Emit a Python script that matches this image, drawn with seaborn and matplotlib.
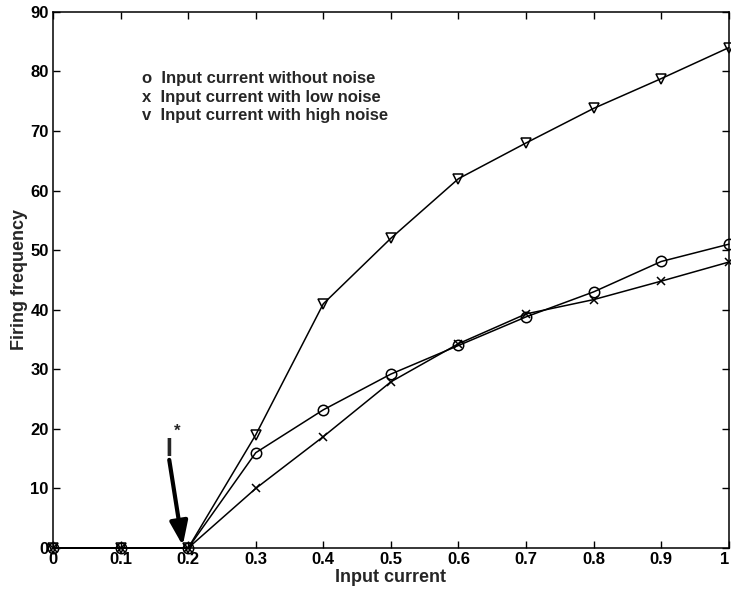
import matplotlib
matplotlib.use("Agg")
import matplotlib.pyplot as plt
import seaborn as sns
import pandas as pd

sns.set_theme(style="ticks")
plt.rcParams["font.family"] = ["Liberation Sans", "DejaVu Sans"]

input_current = [0, 0.1, 0.2, 0.3, 0.4, 0.5, 0.6, 0.7, 0.8, 0.9, 1.0]
freq_no_noise = [0, 0, 0, 16, 23.2, 29.2, 34.0, 38.8, 43.0, 48.1, 51]
freq_low_noise = [0, 0, 0, 10, 18.7, 27.9, 34.3, 39.3, 41.7, 44.8, 48]
freq_high_noise = [0, 0, 0, 19, 41, 52, 62, 68, 73.8, 78.8, 84]

legend_lines = [
    "o  Input current without noise",
    "x  Input current with low noise",
    "v  Input current with high noise",
]

x_ticks = [0, 0.1, 0.2, 0.3, 0.4, 0.5, 0.6, 0.7, 0.8, 0.9, 1]
x_tick_labels = ["0", "0.1", "0.2", "0.3", "0.4", "0.5", "0.6", "0.7", "0.8", "0.9", "1"]
y_ticks = [0, 10, 20, 30, 40, 50, 60, 70, 80, 90]

df = pd.DataFrame({"current": input_current,
                   "none": freq_no_noise,
                   "low": freq_low_noise,
                   "high": freq_high_noise})

fig = plt.figure(figsize=(7.31, 5.94), dpi=100)
ax = fig.add_axes([0.0725, 0.0774, 0.9245, 0.9026])

line_kw = dict(color="black", linewidth=1.1, mec="black", mew=1.1)
sns.lineplot(data=df, x="current", y="none", ax=ax, marker="o", ms=7.5,
             mfc="none", **line_kw)
sns.lineplot(data=df, x="current", y="low", ax=ax, marker="x", ms=5.5, **line_kw)
sns.lineplot(data=df, x="current", y="high", ax=ax, marker="v", ms=7.5,
             mfc="none", **line_kw)

ax.set_xlim(0, 1)
ax.set_ylim(0, 90)
ax.set_xticks(x_ticks)
ax.set_xticklabels(x_tick_labels)
ax.set_yticks(y_ticks)
ax.tick_params(direction="in", length=5, width=1, top=True, right=True,
               labelsize=12, pad=3, colors="black")
for lab in ax.get_xticklabels() + ax.get_yticklabels():
    lab.set_fontweight("bold")
ax.get_xticklabels()[-1].set_horizontalalignment("right")
for sp in ax.spines.values():
    sp.set_color("black")
    sp.set_linewidth(1.1)
for ln in ax.lines:
    ln.set_clip_on(False)

ax.set_xlabel("Input current", fontsize=13, fontweight="bold", labelpad=1)
ax.set_ylabel("Firing frequency", fontsize=13, fontweight="bold", labelpad=2)

# hand-written key in the upper left
for i, txt in enumerate(legend_lines):
    ax.text(0.132, 78.8 - i * 3.1, txt, fontsize=12, fontweight="bold",
            va="center", ha="left")

# threshold current marker
ax.annotate("", xy=(0.192, 0.4), xytext=(0.172, 14.8),
            arrowprops=dict(arrowstyle="-|>,head_length=1.2,head_width=0.45",
                            color="black", lw=3.0, shrinkA=0, shrinkB=0))
ax.text(0.171, 16.6, "I", fontsize=18, fontweight="bold", ha="center", va="center")
ax.text(0.184, 19.6, "*", fontsize=12, fontweight="bold", ha="center", va="center")

fig.savefig("out.png", dpi=100)
